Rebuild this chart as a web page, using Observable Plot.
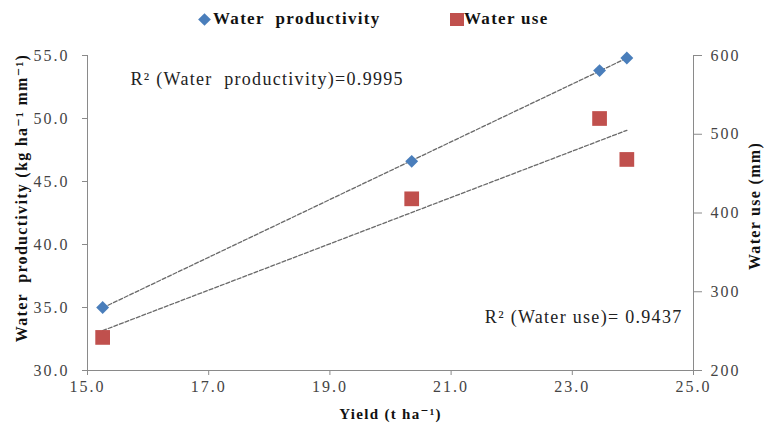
<!DOCTYPE html>
<html>
<head>
<meta charset="utf-8">
<script src="https://cdn.jsdelivr.net/npm/d3@7"></script>
<script src="https://cdn.jsdelivr.net/npm/@observablehq/plot@0.6"></script>
<style>
  body { margin: 0; background: white; font-family: "Liberation Serif", "DejaVu Serif", serif; }
  #wrap { position: relative; width: 768px; height: 432px; }
  #legend { position: absolute; left: 0; top: 0; height: 38px; width: 768px; font-weight: bold; font-size: 17px; letter-spacing: 1.3px; color: #111; font-family: "Liberation Serif", "DejaVu Serif", serif; }
  .item { position: absolute; top: 9px; display: flex; align-items: center; }
  .diamond { width: 9px; height: 9px; background: #4A7EBB; transform: rotate(45deg); margin-right: 4px; }
  .square { width: 14px; height: 13px; background: #C0504D; margin-right: 0px; }
  #chart svg text { font-family: "Liberation Serif", "DejaVu Serif", serif; }
</style>
</head>
<body>
<div id="wrap">
<div id="chart"></div>
<div id="legend"></div>
</div>
<script>
// ---- data ----
const yieldVals = [15.25, 20.35, 23.45, 23.9];
const waterProductivity = [35.0, 46.6, 53.8, 54.8];
const waterUse = [242, 418, 520, 468];
const xTicks = [15, 17, 19, 21, 23, 25];
const leftTicks = [30, 35, 40, 45, 50, 55];
const rightTicks = [200, 300, 400, 500, 600];
const seriesNames = ["Water  productivity", "Water use"];
const r2Labels = ["R\u00b2 (Water  productivity)=0.9995", "R\u00b2 (Water use)= 0.9437"];
const titles = {x: "Yield (t ha\u207b\u00b9)", y: "Water  productivity (kg ha\u207b\u00b9 mm\u207b\u00b9)", y2: "Water use (mm)"};

const blue = "#4A7EBB", red = "#C0504D";

// legend
const legend = document.getElementById("legend");
legend.innerHTML =
  `<div class="item" style="left:200px"><span class="diamond"></span><span style="white-space:pre">${seriesNames[0]}</span></div>` +
  `<div class="item" style="left:450px"><span class="square"></span><span>${seriesNames[1]}</span></div>`;

// secondary axis mapping (right -> left scale)
const toLeft = d3.scaleLinear([rightTicks[0], rightTicks[rightTicks.length - 1]],
                              [leftTicks[0], leftTicks[leftTicks.length - 1]]);

const wp = yieldVals.map((x, i) => ({x, y: waterProductivity[i]}));
const wu = yieldVals.map((x, i) => ({x, y: toLeft(waterUse[i])}));

const axisColor = "#8a8a8a";
const tickText = "#444";
const titleText = "#111";

const chart = Plot.plot({
  width: 768,
  height: 432,
  marginTop: 55,
  marginBottom: 62,
  marginLeft: 87,
  marginRight: 75,
  style: {fontFamily: "'Liberation Serif', 'DejaVu Serif', serif", fontSize: "16px", color: tickText, background: "white"},
  x: {domain: [xTicks[0], xTicks[xTicks.length - 1]]},
  y: {domain: [leftTicks[0], leftTicks[leftTicks.length - 1]]},
  marks: [
    Plot.ruleX([xTicks[0], xTicks[xTicks.length - 1]], {stroke: axisColor}),
    Plot.ruleY([leftTicks[0]], {stroke: axisColor}),
    Plot.axisX({ticks: xTicks, tickFormat: ".1f", tickSize: 5, tickPadding: 5, stroke: axisColor, fontSize: 16, label: null}),
    Plot.axisY({anchor: "left", ticks: leftTicks, tickFormat: ".1f", tickSize: 5, tickPadding: 13, stroke: axisColor, fontSize: 16, label: null}),
    Plot.axisY({anchor: "right", ticks: rightTicks.map(toLeft), tickFormat: d => d3.format("d")(toLeft.invert(d)), tickSize: 8, tickPadding: 9, stroke: axisColor, fontSize: 16, label: null}),
    Plot.text([titles.x], {frameAnchor: "bottom", dy: 48, textAnchor: "middle", fontWeight: "bold", fontSize: 15, fill: titleText}),
    Plot.text([titles.y], {frameAnchor: "left", dx: -66, dy: -15, textAnchor: "middle", rotate: -90, fontWeight: "bold", fontSize: 16, fill: titleText}),
    Plot.text([titles.y2], {frameAnchor: "right", dx: 61, dy: -7, textAnchor: "middle", rotate: -90, fontWeight: "bold", fontSize: 16, fill: titleText}),
    Plot.linearRegressionY(wp, {x: "x", y: "y", ci: 0, stroke: "#6a6a6a", strokeWidth: 1.3, strokeDasharray: "4,2"}),
    Plot.linearRegressionY(wu, {x: "x", y: "y", ci: 0, stroke: "#6a6a6a", strokeWidth: 1.3, strokeDasharray: "4,2"}),
    Plot.dot(wu, {x: "x", y: "y", symbol: "square", r: 8.3, fill: red, stroke: "none"}),
    Plot.dot(wp, {x: "x", y: "y", symbol: "diamond2", r: 5.8, fill: blue, stroke: "none"}),
    Plot.text([r2Labels[0]], {frameAnchor: "top-left", dx: 43, dy: 17, textAnchor: "start", fontSize: 18, fill: "#222"}),
    Plot.text([r2Labels[1]], {frameAnchor: "bottom-right", dx: -11, dy: -48, textAnchor: "end", fontSize: 18, fill: "#222"})
  ]
});
// letter spacing to mimic the stretched glyphs of the original
d3.select(chart).selectAll("g[aria-label$='tick label'] text").style("letter-spacing", "2px");
d3.select(chart).selectAll("g[aria-label='text'] text").style("letter-spacing", "1.3px").style("white-space", "pre");
document.getElementById("chart").appendChild(chart);
</script>
</body>
</html>
